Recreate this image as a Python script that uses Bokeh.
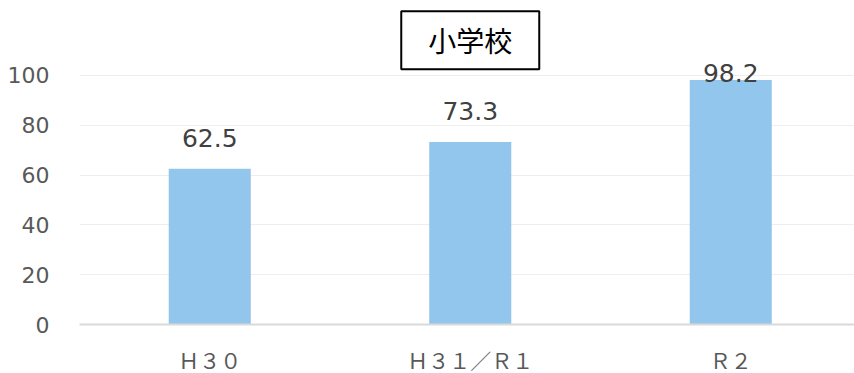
from bokeh.plotting import figure
from bokeh.models import ColumnDataSource, Range1d, FixedTicker, Label
from bokeh.core.properties import value
from bokeh.embed import file_html
from bokeh.resources import INLINE

# 年度別の値（小学校）
categories = ["Ｈ３０", "Ｈ３１／Ｒ１", "Ｒ２"]
values = [62.5, 73.3, 98.2]
y_ticks = [0, 20, 40, 60, 80, 100]
chart_title = "小学校"

NUM_FONT = "DejaVu Sans"
JP_FONT = "Noto Sans CJK JP"

xs = list(range(len(categories)))
# keep value labels inside the plotting area near the top
label_y = [min(v, 88.4) for v in values]
src = ColumnDataSource(dict(
    x=xs, top=values, label_y=label_y,
    text=[f"{v:.1f}" for v in values],
))

p = figure(
    width=854, height=373,
    frame_width=775, frame_height=324,
    x_range=Range1d(-0.5, 2.475), y_range=Range1d(0, 130.1),
    output_backend="svg", toolbar_location=None,
    min_border_left=79, min_border_right=0,
    min_border_top=0, min_border_bottom=49,
)
p.outline_line_color = None
p.background_fill_color = "white"
p.border_fill_color = "white"

p.vbar(x="x", top="top", width=0.315, bottom=0, source=src,
       fill_color="#92C6EC", line_color=None)

p.text(x="x", y="label_y", text="text", source=src,
       text_align="center", text_baseline="alphabetic", y_offset=-31,
       text_font=value(NUM_FONT), text_font_size="25px", text_color="#404040")

# y axis
p.yaxis.ticker = FixedTicker(ticks=y_ticks)
p.yaxis.axis_line_color = None
p.yaxis.major_tick_line_color = None
p.yaxis.minor_tick_line_color = None
p.yaxis.major_label_standoff = 24
p.yaxis.major_label_text_font = NUM_FONT
p.yaxis.major_label_text_font_size = "22px"
p.yaxis.major_label_text_color = "#595959"

# x axis
p.xaxis.ticker = FixedTicker(ticks=xs)
p.xaxis.major_label_overrides = {i: c for i, c in zip(xs, categories)}
p.xaxis.axis_line_color = "#d9d9d9"
p.xaxis.axis_line_width = 2
p.xaxis.major_tick_line_color = None
p.xaxis.minor_tick_line_color = None
p.xaxis.major_label_standoff = 14
p.xaxis.major_label_text_font = JP_FONT
p.xaxis.major_label_text_font_size = "21px"
p.xaxis.major_label_text_color = "#595959"

p.xgrid.grid_line_color = None
p.ygrid.grid_line_color = "#eeeeee"
p.ygrid.grid_line_width = 1

# boxed chart title above the middle bar
title = Label(
    x=1, y=114.1, text=chart_title,
    text_align="center", text_baseline="middle",
    text_font=JP_FONT, text_font_size="28px", text_color="black",
    border_line_color="black", border_line_width=2,
    background_fill_color="white",
    padding=dict(x=27, y=9),
)
p.add_layout(title)

open("out.html", "w").write(file_html(p, INLINE))
